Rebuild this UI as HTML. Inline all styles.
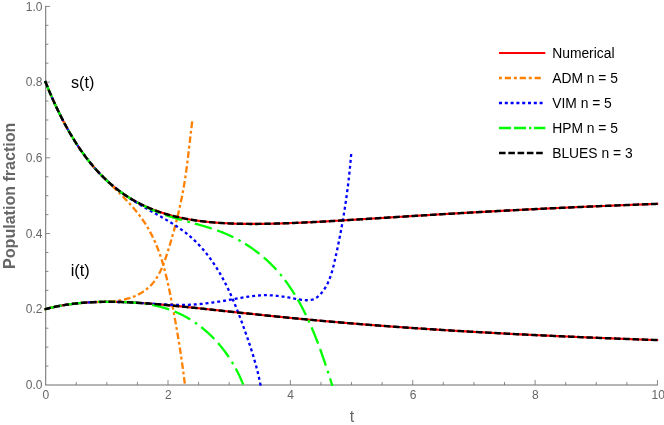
<!DOCTYPE html>
<html><head><meta charset="utf-8"><title>Population fraction</title>
<style>
html,body{margin:0;padding:0;background:#fff}
svg{display:block;font-family:"Liberation Sans",sans-serif;will-change:transform}
.c path{fill:none;stroke-width:2.3;stroke-linecap:butt;stroke-linejoin:round}
.num{stroke:#ff0000;stroke-width:2.1 !important}
.adm{stroke:#ff8000;stroke-dasharray:2.8 2.85 6.6 2.75;stroke-dashoffset:0.4}
.ladm{stroke:#ff8000;stroke-dasharray:2.9 2.9 6.2 2.9}
.vim{stroke:#0000ff;stroke-dasharray:3 2.9;stroke-dashoffset:0.5}
.lvim{stroke:#0000ff;stroke-dasharray:3 2.8}
.hpm{stroke:#00ff00;stroke-dasharray:17.6 5.65 17.6 5.65 2.6 5.2;stroke-dashoffset:0.05}
.lhpm{stroke:#00ff00;stroke-dasharray:12 3 12 3 2.3 2.8}
.blu{stroke:#000000;stroke-dasharray:6.5 2.72;stroke-dashoffset:0;stroke-width:2.45 !important}
.lblu{stroke:#000000;stroke-dasharray:6.6 2.69}
.ax{stroke:#6c6c6c;stroke-width:0.8;fill:none}
.tl text{font-size:12px;fill:#666}
.lg text{font-size:13.85px;fill:#000}
</style></head><body>
<svg width="664" height="425" viewBox="0 0 664 425">
<rect width="664" height="425" fill="#fff"/>
<defs><clipPath id="cp"><rect x="43.9" y="6.30" width="614.80" height="379.70"/></clipPath></defs>
<g class="ax"><path d="M45.72,5.95 V385.0" fill="none" stroke-width="1"/><path d="M45.2,385.0 H657.89" fill="none" stroke-width="1"/><path d="M76.23,385.0 v-3.1 M106.82,385.0 v-3.1 M137.41,385.0 v-3.1 M168.00,385.0 v-5.1 M198.59,385.0 v-3.1 M229.18,385.0 v-3.1 M259.77,385.0 v-3.1 M290.36,385.0 v-5.1 M320.95,385.0 v-3.1 M351.54,385.0 v-3.1 M382.13,385.0 v-3.1 M412.72,385.0 v-5.1 M443.31,385.0 v-3.1 M473.90,385.0 v-3.1 M504.49,385.0 v-3.1 M535.08,385.0 v-5.1 M565.67,385.0 v-3.1 M596.26,385.0 v-3.1 M626.85,385.0 v-3.1 M657.44,385.0 v-5.1 M45.7,366.07 h2.7 M45.7,347.14 h2.7 M45.7,328.21 h2.7 M45.7,309.28 h4.4 M45.7,290.35 h2.7 M45.7,271.42 h2.7 M45.7,252.49 h2.7 M45.7,233.56 h4.4 M45.7,214.63 h2.7 M45.7,195.70 h2.7 M45.7,176.77 h2.7 M45.7,157.84 h4.4 M45.7,138.91 h2.7 M45.7,119.98 h2.7 M45.7,101.05 h2.7 M45.7,82.12 h4.4 M45.7,63.19 h2.7 M45.7,44.26 h2.7 M45.7,25.33 h2.7 M45.7,6.40 h4.4"/></g>
<g class="c" clip-path="url(#cp)">
<path class="num" d="M45.13,81.07 L45.50,82.00 L47.04,85.81 L48.57,89.54 L50.11,93.17 L51.64,96.73 L53.18,100.20 L54.72,103.59 L56.25,106.89 L57.79,110.13 L59.32,113.28 L60.86,116.36 L62.39,119.36 L63.93,122.30 L65.47,125.16 L67.00,127.96 L68.54,130.68 L70.07,133.35 L71.61,135.94 L73.15,138.48 L74.68,140.95 L76.22,143.36 L77.75,145.71 L79.29,148.00 L80.82,150.24 L82.36,152.42 L83.90,154.55 L85.43,156.62 L86.97,158.64 L88.50,160.61 L90.04,162.53 L91.58,164.40 L93.11,166.23 L94.65,168.01 L96.18,169.74 L97.72,171.43 L99.25,173.07 L100.79,174.67 L102.33,176.23 L103.86,177.75 L105.40,179.23 L106.93,180.67 L108.47,182.07 L110.01,183.44 L111.54,184.77 L113.08,186.06 L114.61,187.32 L116.15,188.54 L117.68,189.73 L119.22,190.89 L120.76,192.02 L122.29,193.12 L123.83,194.19 L125.36,195.22 L126.90,196.23 L128.44,197.21 L129.97,198.16 L131.51,199.09 L133.04,199.99 L134.58,200.86 L136.11,201.71 L137.65,202.54 L139.19,203.34 L140.72,204.12 L142.26,204.87 L143.79,205.60 L145.33,206.32 L146.87,207.01 L148.40,207.67 L149.94,208.32 L151.47,208.95 L153.01,209.56 L154.54,210.15 L156.08,210.73 L157.62,211.28 L159.15,211.82 L160.69,212.34 L162.22,212.85 L163.76,213.33 L165.30,213.81 L166.83,214.26 L168.37,214.71 L169.90,215.13 L171.44,215.55 L172.97,215.94 L174.51,216.33 L176.05,216.70 L177.58,217.06 L179.12,217.41 L180.65,217.74 L182.19,218.06 L183.73,218.37 L185.26,218.67 L186.80,218.96 L188.33,219.24 L189.87,219.50 L191.40,219.76 L192.94,220.00 L194.48,220.24 L196.01,220.47 L197.55,220.68 L199.08,220.89 L200.62,221.09 L202.16,221.28 L203.69,221.46 L205.23,221.64 L206.76,221.80 L208.30,221.96 L209.83,222.11 L211.37,222.25 L212.91,222.39 L214.44,222.52 L215.98,222.64 L217.51,222.76 L219.05,222.86 L220.59,222.97 L222.12,223.06 L223.66,223.15 L225.19,223.24 L226.73,223.32 L228.26,223.39 L229.80,223.46 L231.34,223.52 L232.87,223.58 L234.41,223.63 L235.94,223.68 L237.48,223.72 L239.02,223.76 L240.55,223.79 L242.09,223.82 L243.62,223.85 L245.16,223.87 L246.69,223.89 L248.23,223.90 L249.77,223.91 L251.30,223.92 L252.84,223.92 L254.37,223.92 L255.91,223.91 L257.45,223.91 L258.98,223.89 L260.52,223.88 L262.05,223.86 L263.59,223.84 L265.13,223.82 L266.66,223.80 L268.20,223.77 L269.73,223.74 L271.27,223.70 L272.80,223.67 L274.34,223.63 L275.88,223.59 L277.41,223.55 L278.95,223.50 L280.48,223.46 L282.02,223.41 L283.56,223.36 L285.09,223.30 L286.63,223.25 L288.16,223.19 L289.70,223.13 L291.23,223.07 L292.77,223.01 L294.31,222.95 L295.84,222.89 L297.38,222.82 L298.91,222.75 L300.45,222.68 L301.99,222.61 L303.52,222.54 L305.06,222.47 L306.59,222.40 L308.13,222.32 L309.66,222.24 L311.20,222.17 L312.74,222.09 L314.27,222.01 L315.81,221.93 L317.34,221.85 L318.88,221.77 L320.42,221.68 L321.95,221.60 L323.49,221.52 L325.02,221.43 L326.56,221.35 L328.09,221.26 L329.63,221.17 L331.17,221.08 L332.70,220.99 L334.24,220.91 L335.77,220.82 L337.31,220.73 L338.85,220.63 L340.38,220.54 L341.92,220.45 L343.45,220.36 L344.99,220.27 L346.52,220.17 L348.06,220.08 L349.60,219.99 L351.13,219.89 L352.67,219.80 L354.20,219.70 L355.74,219.61 L357.28,219.51 L358.81,219.42 L360.35,219.32 L361.88,219.23 L363.42,219.13 L364.95,219.03 L366.49,218.94 L368.03,218.84 L369.56,218.74 L371.10,218.65 L372.63,218.55 L374.17,218.45 L375.71,218.36 L377.24,218.26 L378.78,218.16 L380.31,218.06 L381.85,217.97 L383.38,217.87 L384.92,217.77 L386.46,217.68 L387.99,217.58 L389.53,217.48 L391.06,217.38 L392.60,217.29 L394.14,217.19 L395.67,217.09 L397.21,216.99 L398.74,216.90 L400.28,216.80 L401.81,216.70 L403.35,216.61 L404.89,216.51 L406.42,216.41 L407.96,216.32 L409.49,216.22 L411.03,216.13 L412.57,216.03 L414.10,215.93 L415.64,215.84 L417.17,215.74 L418.71,215.65 L420.24,215.55 L421.78,215.46 L423.32,215.36 L424.85,215.27 L426.39,215.17 L427.92,215.08 L429.46,214.98 L431.00,214.89 L432.53,214.80 L434.07,214.70 L435.60,214.61 L437.14,214.52 L438.67,214.42 L440.21,214.33 L441.75,214.24 L443.28,214.15 L444.82,214.05 L446.35,213.96 L447.89,213.87 L449.43,213.78 L450.96,213.69 L452.50,213.60 L454.03,213.51 L455.57,213.42 L457.11,213.33 L458.64,213.24 L460.18,213.15 L461.71,213.06 L463.25,212.97 L464.78,212.88 L466.32,212.79 L467.86,212.70 L469.39,212.61 L470.93,212.53 L472.46,212.44 L474.00,212.35 L475.54,212.27 L477.07,212.18 L478.61,212.09 L480.14,212.01 L481.68,211.92 L483.21,211.83 L484.75,211.75 L486.29,211.66 L487.82,211.58 L489.36,211.49 L490.89,211.41 L492.43,211.33 L493.97,211.24 L495.50,211.16 L497.04,211.08 L498.57,210.99 L500.11,210.91 L501.64,210.83 L503.18,210.75 L504.72,210.67 L506.25,210.58 L507.79,210.50 L509.32,210.42 L510.86,210.34 L512.40,210.26 L513.93,210.18 L515.47,210.10 L517.00,210.02 L518.54,209.94 L520.07,209.86 L521.61,209.78 L523.15,209.71 L524.68,209.63 L526.22,209.55 L527.75,209.47 L529.29,209.39 L530.83,209.32 L532.36,209.24 L533.90,209.16 L535.43,209.09 L536.97,209.01 L538.50,208.94 L540.04,208.86 L541.58,208.79 L543.11,208.71 L544.65,208.64 L546.18,208.56 L547.72,208.49 L549.26,208.41 L550.79,208.34 L552.33,208.27 L553.86,208.20 L555.40,208.12 L556.93,208.05 L558.47,207.98 L560.01,207.91 L561.54,207.83 L563.08,207.76 L564.61,207.69 L566.15,207.62 L567.69,207.55 L569.22,207.48 L570.76,207.41 L572.29,207.34 L573.83,207.27 L575.36,207.20 L576.90,207.13 L578.44,207.06 L579.97,206.99 L581.51,206.93 L583.04,206.86 L584.58,206.79 L586.12,206.72 L587.65,206.66 L589.19,206.59 L590.72,206.52 L592.26,206.46 L593.79,206.39 L595.33,206.32 L596.87,206.26 L598.40,206.19 L599.94,206.13 L601.47,206.06 L603.01,206.00 L604.55,205.93 L606.08,205.87 L607.62,205.80 L609.15,205.74 L610.69,205.68 L612.22,205.61 L613.76,205.55 L615.30,205.49 L616.83,205.42 L618.37,205.36 L619.90,205.30 L621.44,205.24 L622.98,205.17 L624.51,205.11 L626.05,205.05 L627.58,204.99 L629.12,204.93 L630.65,204.87 L632.19,204.81 L633.73,204.75 L635.26,204.69 L636.80,204.63 L638.33,204.57 L639.87,204.51 L641.41,204.45 L642.94,204.39 L644.48,204.33 L646.01,204.27 L647.55,204.22 L649.08,204.16 L650.62,204.10 L652.16,204.04 L653.69,203.99 L655.23,203.93 L656.76,203.87 L658.30,203.81"/>
<path class="num" d="M44.53,309.35 L45.50,309.10 L47.04,308.70 L48.57,308.31 L50.11,307.93 L51.64,307.57 L53.18,307.22 L54.72,306.89 L56.25,306.57 L57.79,306.25 L59.32,305.96 L60.86,305.67 L62.39,305.40 L63.93,305.13 L65.47,304.88 L67.00,304.65 L68.54,304.42 L70.07,304.20 L71.61,304.00 L73.15,303.80 L74.68,303.62 L76.22,303.44 L77.75,303.28 L79.29,303.13 L80.82,302.98 L82.36,302.85 L83.90,302.72 L85.43,302.61 L86.97,302.50 L88.50,302.40 L90.04,302.31 L91.58,302.23 L93.11,302.16 L94.65,302.09 L96.18,302.03 L97.72,301.98 L99.25,301.94 L100.79,301.91 L102.33,301.88 L103.86,301.86 L105.40,301.84 L106.93,301.83 L108.47,301.83 L110.01,301.84 L111.54,301.85 L113.08,301.87 L114.61,301.89 L116.15,301.92 L117.68,301.95 L119.22,301.99 L120.76,302.03 L122.29,302.08 L123.83,302.13 L125.36,302.19 L126.90,302.26 L128.44,302.32 L129.97,302.39 L131.51,302.47 L133.04,302.55 L134.58,302.63 L136.11,302.72 L137.65,302.81 L139.19,302.91 L140.72,303.00 L142.26,303.10 L143.79,303.21 L145.33,303.32 L146.87,303.43 L148.40,303.54 L149.94,303.65 L151.47,303.77 L153.01,303.89 L154.54,304.02 L156.08,304.14 L157.62,304.27 L159.15,304.40 L160.69,304.53 L162.22,304.67 L163.76,304.80 L165.30,304.94 L166.83,305.08 L168.37,305.22 L169.90,305.36 L171.44,305.51 L172.97,305.66 L174.51,305.80 L176.05,305.95 L177.58,306.10 L179.12,306.25 L180.65,306.41 L182.19,306.56 L183.73,306.71 L185.26,306.87 L186.80,307.03 L188.33,307.18 L189.87,307.34 L191.40,307.50 L192.94,307.66 L194.48,307.82 L196.01,307.98 L197.55,308.14 L199.08,308.31 L200.62,308.47 L202.16,308.63 L203.69,308.79 L205.23,308.96 L206.76,309.12 L208.30,309.29 L209.83,309.45 L211.37,309.62 L212.91,309.78 L214.44,309.95 L215.98,310.11 L217.51,310.28 L219.05,310.44 L220.59,310.61 L222.12,310.78 L223.66,310.94 L225.19,311.11 L226.73,311.27 L228.26,311.44 L229.80,311.60 L231.34,311.77 L232.87,311.94 L234.41,312.10 L235.94,312.27 L237.48,312.43 L239.02,312.60 L240.55,312.76 L242.09,312.92 L243.62,313.09 L245.16,313.25 L246.69,313.41 L248.23,313.58 L249.77,313.74 L251.30,313.90 L252.84,314.06 L254.37,314.23 L255.91,314.39 L257.45,314.55 L258.98,314.71 L260.52,314.87 L262.05,315.03 L263.59,315.19 L265.13,315.35 L266.66,315.50 L268.20,315.66 L269.73,315.82 L271.27,315.98 L272.80,316.13 L274.34,316.29 L275.88,316.44 L277.41,316.60 L278.95,316.75 L280.48,316.91 L282.02,317.06 L283.56,317.21 L285.09,317.36 L286.63,317.52 L288.16,317.67 L289.70,317.82 L291.23,317.97 L292.77,318.12 L294.31,318.27 L295.84,318.41 L297.38,318.56 L298.91,318.71 L300.45,318.86 L301.99,319.00 L303.52,319.15 L305.06,319.29 L306.59,319.44 L308.13,319.58 L309.66,319.72 L311.20,319.87 L312.74,320.01 L314.27,320.15 L315.81,320.29 L317.34,320.43 L318.88,320.57 L320.42,320.71 L321.95,320.85 L323.49,320.99 L325.02,321.12 L326.56,321.26 L328.09,321.40 L329.63,321.53 L331.17,321.67 L332.70,321.80 L334.24,321.93 L335.77,322.07 L337.31,322.20 L338.85,322.33 L340.38,322.46 L341.92,322.59 L343.45,322.73 L344.99,322.85 L346.52,322.98 L348.06,323.11 L349.60,323.24 L351.13,323.37 L352.67,323.49 L354.20,323.62 L355.74,323.75 L357.28,323.87 L358.81,324.00 L360.35,324.12 L361.88,324.24 L363.42,324.37 L364.95,324.49 L366.49,324.61 L368.03,324.73 L369.56,324.85 L371.10,324.97 L372.63,325.09 L374.17,325.21 L375.71,325.33 L377.24,325.45 L378.78,325.56 L380.31,325.68 L381.85,325.80 L383.38,325.91 L384.92,326.03 L386.46,326.14 L387.99,326.26 L389.53,326.37 L391.06,326.48 L392.60,326.59 L394.14,326.71 L395.67,326.82 L397.21,326.93 L398.74,327.04 L400.28,327.15 L401.81,327.26 L403.35,327.37 L404.89,327.48 L406.42,327.58 L407.96,327.69 L409.49,327.80 L411.03,327.90 L412.57,328.01 L414.10,328.12 L415.64,328.22 L417.17,328.32 L418.71,328.43 L420.24,328.53 L421.78,328.63 L423.32,328.74 L424.85,328.84 L426.39,328.94 L427.92,329.04 L429.46,329.14 L431.00,329.24 L432.53,329.34 L434.07,329.44 L435.60,329.54 L437.14,329.64 L438.67,329.74 L440.21,329.83 L441.75,329.93 L443.28,330.03 L444.82,330.12 L446.35,330.22 L447.89,330.31 L449.43,330.41 L450.96,330.50 L452.50,330.60 L454.03,330.69 L455.57,330.78 L457.11,330.88 L458.64,330.97 L460.18,331.06 L461.71,331.15 L463.25,331.24 L464.78,331.33 L466.32,331.42 L467.86,331.51 L469.39,331.60 L470.93,331.69 L472.46,331.78 L474.00,331.87 L475.54,331.95 L477.07,332.04 L478.61,332.13 L480.14,332.21 L481.68,332.30 L483.21,332.39 L484.75,332.47 L486.29,332.56 L487.82,332.64 L489.36,332.73 L490.89,332.81 L492.43,332.89 L493.97,332.98 L495.50,333.06 L497.04,333.14 L498.57,333.22 L500.11,333.31 L501.64,333.39 L503.18,333.47 L504.72,333.55 L506.25,333.63 L507.79,333.71 L509.32,333.79 L510.86,333.87 L512.40,333.95 L513.93,334.02 L515.47,334.10 L517.00,334.18 L518.54,334.26 L520.07,334.33 L521.61,334.41 L523.15,334.49 L524.68,334.56 L526.22,334.64 L527.75,334.72 L529.29,334.79 L530.83,334.87 L532.36,334.94 L533.90,335.01 L535.43,335.09 L536.97,335.16 L538.50,335.24 L540.04,335.31 L541.58,335.38 L543.11,335.45 L544.65,335.53 L546.18,335.60 L547.72,335.67 L549.26,335.74 L550.79,335.81 L552.33,335.88 L553.86,335.95 L555.40,336.02 L556.93,336.09 L558.47,336.16 L560.01,336.23 L561.54,336.30 L563.08,336.37 L564.61,336.44 L566.15,336.50 L567.69,336.57 L569.22,336.64 L570.76,336.71 L572.29,336.77 L573.83,336.84 L575.36,336.90 L576.90,336.97 L578.44,337.04 L579.97,337.10 L581.51,337.17 L583.04,337.23 L584.58,337.30 L586.12,337.36 L587.65,337.43 L589.19,337.49 L590.72,337.55 L592.26,337.62 L593.79,337.68 L595.33,337.74 L596.87,337.81 L598.40,337.87 L599.94,337.93 L601.47,337.99 L603.01,338.05 L604.55,338.11 L606.08,338.18 L607.62,338.24 L609.15,338.30 L610.69,338.36 L612.22,338.42 L613.76,338.48 L615.30,338.54 L616.83,338.60 L618.37,338.66 L619.90,338.72 L621.44,338.77 L622.98,338.83 L624.51,338.89 L626.05,338.95 L627.58,339.01 L629.12,339.07 L630.65,339.12 L632.19,339.18 L633.73,339.24 L635.26,339.29 L636.80,339.35 L638.33,339.41 L639.87,339.46 L641.41,339.52 L642.94,339.57 L644.48,339.63 L646.01,339.68 L647.55,339.74 L649.08,339.79 L650.62,339.85 L652.16,339.90 L653.69,339.96 L655.23,340.01 L656.76,340.07 L658.30,340.12"/>
<path class="adm" d="M45.10,81.11 L45.48,82.03 L45.93,83.14 L46.38,84.24 L46.84,85.34 L47.29,86.45 L47.75,87.55 L48.21,88.65 L48.68,89.75 L49.14,90.86 L49.61,91.96 L50.08,93.06 L50.56,94.16 L51.03,95.25 L51.51,96.35 L51.99,97.45 L52.48,98.55 L52.97,99.64 L53.46,100.74 L53.95,101.83 L54.44,102.92 L54.94,104.01 L55.44,105.10 L55.95,106.19 L56.46,107.28 L56.97,108.36 L57.48,109.45 L58.00,110.53 L58.52,111.61 L59.04,112.69 L59.57,113.77 L60.10,114.84 L60.64,115.92 L61.18,116.99 L61.72,118.06 L62.27,119.13 L62.82,120.20 L63.37,121.26 L63.93,122.32 L64.49,123.39 L65.05,124.44 L65.62,125.50 L66.20,126.55 L66.77,127.60 L67.36,128.65 L67.94,129.70 L68.53,130.74 L69.13,131.78 L69.73,132.82 L70.33,133.86 L70.94,134.89 L71.55,135.92 L72.17,136.95 L72.79,137.97 L73.42,138.99 L74.05,140.01 L74.69,141.02 L75.33,142.03 L75.98,143.04 L76.63,144.05 L77.29,145.05 L77.95,146.05 L78.61,147.04 L79.29,148.03 L79.96,149.02 L80.65,150.00 L81.34,150.98 L82.03,151.96 L82.73,152.93 L83.43,153.90 L84.14,154.87 L84.86,155.83 L85.58,156.78 L86.30,157.74 L87.03,158.68 L87.77,159.63 L88.51,160.57 L89.26,161.50 L90.01,162.44 L90.77,163.36 L91.54,164.28 L92.31,165.20 L93.08,166.12 L93.86,167.02 L94.65,167.93 L95.44,168.83 L96.24,169.72 L97.04,170.61 L97.85,171.50 L98.67,172.38 L99.49,173.25 L100.31,174.12 L101.14,174.99 L101.98,175.85 L102.82,176.71 L103.66,177.57 L104.50,178.42 L105.35,179.27 L106.20,180.12 L107.06,180.97 L107.91,181.81 L108.77,182.65 L109.63,183.50 L110.49,184.34 L111.35,185.18 L112.21,186.01 L113.08,186.85 L113.94,187.69 L114.80,188.53 L115.66,189.37 L116.52,190.21 L117.38,191.05 L118.24,191.90 L119.09,192.74 L119.95,193.59 L120.80,194.44 L121.65,195.29 L122.49,196.14 L123.34,197.00 L124.17,197.86 L125.01,198.72 L125.84,199.59 L126.66,200.46 L127.49,201.34 L128.30,202.21 L129.11,203.10 L129.92,203.98 L130.72,204.87 L131.52,205.76 L132.31,206.66 L133.09,207.57 L133.87,208.47 L134.64,209.38 L135.40,210.30 L136.16,211.22 L136.91,212.15 L137.65,213.08 L138.39,214.02 L139.11,214.96 L139.83,215.91 L140.54,216.86 L141.25,217.82 L141.94,218.78 L142.62,219.75 L143.30,220.73 L143.96,221.71 L144.62,222.70 L145.27,223.69 L145.90,224.69 L146.53,225.70 L147.14,226.71 L147.75,227.73 L148.35,228.76 L148.94,229.79 L149.51,230.83 L150.08,231.87 L150.64,232.92 L151.19,233.97 L151.73,235.03 L152.26,236.09 L152.79,237.16 L153.30,238.23 L153.81,239.31 L154.30,240.39 L154.79,241.48 L155.27,242.57 L155.75,243.67 L156.21,244.77 L156.66,245.87 L157.11,246.98 L157.55,248.09 L157.98,249.20 L158.41,250.32 L158.82,251.44 L159.23,252.56 L159.63,253.69 L160.03,254.82 L160.41,255.96 L160.80,257.09 L161.17,258.23 L161.54,259.37 L161.90,260.52 L162.25,261.67 L162.60,262.82 L162.94,263.97 L163.28,265.12 L163.61,266.28 L163.93,267.44 L164.25,268.60 L164.57,269.76 L164.87,270.93 L165.18,272.09 L165.48,273.26 L165.77,274.43 L166.06,275.60 L166.35,276.77 L166.63,277.95 L166.91,279.12 L167.18,280.30 L167.46,281.47 L167.72,282.65 L167.99,283.83 L168.25,285.01 L168.50,286.19 L168.76,287.37 L169.01,288.55 L169.26,289.74 L169.51,290.92 L169.75,292.10 L169.99,293.28 L170.23,294.47 L170.47,295.65 L170.71,296.83 L170.94,298.01 L171.18,299.20 L171.41,300.38 L171.64,301.56 L171.87,302.74 L172.10,303.92 L172.33,305.10 L172.55,306.28 L172.78,307.46 L173.01,308.64 L173.23,309.82 L173.45,311.00 L173.67,312.18 L173.89,313.36 L174.11,314.54 L174.33,315.72 L174.55,316.89 L174.76,318.07 L174.98,319.25 L175.19,320.42 L175.41,321.60 L175.62,322.78 L175.83,323.96 L176.04,325.13 L176.24,326.31 L176.45,327.49 L176.66,328.66 L176.86,329.84 L177.06,331.02 L177.27,332.19 L177.47,333.37 L177.67,334.55 L177.86,335.72 L178.06,336.90 L178.26,338.08 L178.45,339.25 L178.64,340.43 L178.84,341.61 L179.03,342.79 L179.22,343.97 L179.41,345.14 L179.59,346.32 L179.78,347.50 L179.96,348.68 L180.15,349.86 L180.33,351.04 L180.51,352.22 L180.69,353.40 L180.86,354.58 L181.04,355.76 L181.22,356.94 L181.39,358.12 L181.56,359.31 L181.73,360.49 L181.90,361.67 L182.07,362.85 L182.24,364.04 L182.40,365.22 L182.57,366.41 L182.73,367.59 L182.89,368.78 L183.05,369.97 L183.21,371.16 L183.37,372.34 L183.52,373.53 L183.68,374.72 L183.83,375.91 L183.98,377.10 L184.13,378.30 L184.28,379.49 L184.43,380.68 L184.57,381.87 L184.72,383.07 L184.86,384.27 L185.00,385.46 L185.14,386.66 L185.28,387.86 L185.42,389.06 L185.55,390.26 L185.69,391.46 L185.82,392.66 L185.95,393.86 L186.08,395.06"/>
<path class="adm" d="M44.53,309.32 L45.50,309.08 L46.66,308.79 L47.82,308.50 L48.98,308.22 L50.14,307.94 L51.30,307.67 L52.47,307.40 L53.64,307.14 L54.81,306.89 L55.98,306.64 L57.15,306.40 L58.32,306.16 L59.50,305.93 L60.67,305.71 L61.85,305.50 L63.03,305.29 L64.21,305.08 L65.39,304.89 L66.57,304.70 L67.75,304.51 L68.94,304.34 L70.12,304.17 L71.31,304.01 L72.49,303.85 L73.68,303.71 L74.87,303.57 L76.06,303.43 L77.25,303.31 L78.44,303.19 L79.63,303.08 L80.82,302.98 L82.01,302.88 L83.20,302.79 L84.40,302.70 L85.59,302.62 L86.78,302.54 L87.98,302.47 L89.17,302.40 L90.37,302.34 L91.56,302.28 L92.76,302.22 L93.95,302.16 L95.15,302.11 L96.34,302.06 L97.54,302.01 L98.73,301.96 L99.92,301.91 L101.12,301.86 L102.31,301.81 L103.51,301.76 L104.70,301.71 L105.89,301.66 L107.08,301.60 L108.28,301.54 L109.47,301.47 L110.66,301.39 L111.85,301.30 L113.04,301.21 L114.23,301.09 L115.42,300.97 L116.61,300.82 L117.80,300.66 L118.99,300.49 L120.17,300.29 L121.36,300.08 L122.54,299.85 L123.73,299.60 L124.91,299.33 L126.08,299.04 L127.25,298.73 L128.42,298.40 L129.58,298.05 L130.74,297.67 L131.89,297.27 L133.03,296.85 L134.16,296.41 L135.28,295.94 L136.39,295.44 L137.48,294.93 L138.56,294.38 L139.63,293.82 L140.68,293.23 L141.72,292.62 L142.74,291.98 L143.74,291.33 L144.72,290.65 L145.68,289.94 L146.62,289.22 L147.53,288.47 L148.43,287.70 L149.29,286.91 L150.13,286.10 L150.95,285.27 L151.74,284.42 L152.51,283.54 L153.26,282.65 L153.98,281.74 L154.68,280.81 L155.36,279.87 L156.01,278.91 L156.65,277.93 L157.27,276.94 L157.87,275.93 L158.46,274.91 L159.02,273.87 L159.57,272.83 L160.11,271.77 L160.62,270.70 L161.13,269.62 L161.62,268.53 L162.10,267.43 L162.56,266.32 L163.01,265.21 L163.46,264.08 L163.89,262.95 L164.31,261.82 L164.73,260.68 L165.13,259.53 L165.53,258.38 L165.92,257.23 L166.30,256.07 L166.68,254.91 L167.06,253.75 L167.43,252.59 L167.79,251.43 L168.16,250.27 L168.52,249.11 L168.88,247.95 L169.23,246.80 L169.59,245.64 L169.94,244.48 L170.28,243.32 L170.63,242.17 L170.97,241.01 L171.31,239.85 L171.65,238.70 L171.98,237.54 L172.31,236.39 L172.64,235.23 L172.97,234.08 L173.29,232.93 L173.61,231.77 L173.93,230.62 L174.24,229.46 L174.55,228.31 L174.86,227.15 L175.17,226.00 L175.47,224.85 L175.77,223.69 L176.07,222.54 L176.36,221.38 L176.65,220.23 L176.94,219.07 L177.23,217.92 L177.51,216.76 L177.79,215.61 L178.07,214.45 L178.34,213.30 L178.62,212.14 L178.88,210.98 L179.15,209.82 L179.41,208.67 L179.67,207.51 L179.93,206.35 L180.18,205.19 L180.43,204.03 L180.68,202.87 L180.93,201.70 L181.17,200.54 L181.41,199.38 L181.64,198.21 L181.88,197.05 L182.11,195.88 L182.33,194.71 L182.56,193.55 L182.78,192.38 L183.00,191.21 L183.21,190.04 L183.42,188.87 L183.63,187.69 L183.84,186.52 L184.04,185.34 L184.24,184.17 L184.44,182.99 L184.63,181.81 L184.82,180.63 L185.01,179.45 L185.19,178.27 L185.37,177.08 L185.55,175.90 L185.72,174.71 L185.90,173.52 L186.06,172.33 L186.23,171.14 L186.40,169.95 L186.56,168.76 L186.72,167.57 L186.87,166.37 L187.03,165.18 L187.18,163.98 L187.33,162.79 L187.48,161.59 L187.63,160.40 L187.77,159.20 L187.92,158.00 L188.06,156.81 L188.20,155.61 L188.34,154.41 L188.48,153.21 L188.62,152.02 L188.76,150.82 L188.90,149.62 L189.04,148.43 L189.17,147.23 L189.31,146.04 L189.44,144.84 L189.58,143.65 L189.71,142.46 L189.85,141.26 L189.99,140.07 L190.12,138.88 L190.26,137.69 L190.39,136.50 L190.53,135.32 L190.67,134.13 L190.81,132.95 L190.95,131.76 L191.09,130.58 L191.23,129.40 L191.38,128.22 L191.52,127.04 L191.67,125.87 L191.81,124.70 L191.96,123.52 L192.11,122.35 L192.27,121.19 L192.42,120.02"/>
<path class="vim" d="M45.11,81.09 L45.49,82.02 L45.94,83.13 L46.39,84.24 L46.84,85.34 L47.30,86.45 L47.75,87.56 L48.21,88.66 L48.68,89.77 L49.14,90.87 L49.61,91.97 L50.08,93.08 L50.55,94.18 L51.03,95.28 L51.51,96.38 L51.99,97.47 L52.47,98.57 L52.96,99.67 L53.45,100.76 L53.94,101.86 L54.44,102.95 L54.94,104.04 L55.44,105.13 L55.95,106.22 L56.46,107.31 L56.97,108.39 L57.48,109.48 L58.00,110.56 L58.52,111.64 L59.05,112.72 L59.58,113.79 L60.11,114.87 L60.65,115.94 L61.19,117.01 L61.73,118.08 L62.28,119.15 L62.83,120.22 L63.39,121.28 L63.95,122.34 L64.51,123.40 L65.08,124.46 L65.65,125.51 L66.22,126.57 L66.80,127.62 L67.39,128.67 L67.97,129.71 L68.57,130.75 L69.16,131.79 L69.76,132.83 L70.37,133.87 L70.98,134.90 L71.59,135.93 L72.21,136.96 L72.83,137.98 L73.46,139.00 L74.09,140.02 L74.73,141.04 L75.37,142.05 L76.02,143.06 L76.67,144.06 L77.33,145.07 L77.99,146.07 L78.65,147.06 L79.33,148.06 L80.00,149.05 L80.68,150.03 L81.37,151.02 L82.06,152.00 L82.76,152.97 L83.46,153.95 L84.17,154.91 L84.88,155.88 L85.60,156.84 L86.33,157.80 L87.06,158.75 L87.79,159.70 L88.53,160.65 L89.28,161.59 L90.03,162.53 L90.79,163.46 L91.55,164.39 L92.32,165.31 L93.10,166.23 L93.88,167.14 L94.67,168.05 L95.46,168.95 L96.26,169.84 L97.06,170.73 L97.87,171.62 L98.69,172.49 L99.51,173.37 L100.34,174.23 L101.18,175.09 L102.02,175.94 L102.87,176.79 L103.72,177.63 L104.58,178.46 L105.45,179.29 L106.32,180.10 L107.20,180.92 L108.09,181.72 L108.98,182.51 L109.88,183.30 L110.78,184.08 L111.69,184.86 L112.61,185.63 L113.53,186.39 L114.46,187.14 L115.39,187.89 L116.33,188.63 L117.27,189.37 L118.22,190.10 L119.17,190.82 L120.13,191.54 L121.10,192.25 L122.06,192.96 L123.04,193.66 L124.01,194.35 L124.99,195.04 L125.98,195.72 L126.97,196.40 L127.96,197.08 L128.96,197.75 L129.96,198.41 L130.97,199.07 L131.98,199.73 L132.99,200.38 L134.00,201.02 L135.02,201.67 L136.04,202.31 L137.07,202.94 L138.10,203.57 L139.13,204.20 L140.16,204.82 L141.20,205.44 L142.23,206.05 L143.28,206.67 L144.32,207.28 L145.36,207.88 L146.41,208.49 L147.46,209.09 L148.51,209.69 L149.56,210.29 L150.61,210.88 L151.66,211.48 L152.71,212.07 L153.77,212.67 L154.82,213.26 L155.87,213.86 L156.92,214.45 L157.97,215.05 L159.02,215.64 L160.07,216.24 L161.12,216.84 L162.16,217.44 L163.20,218.04 L164.25,218.65 L165.28,219.25 L166.32,219.87 L167.35,220.48 L168.38,221.10 L169.41,221.72 L170.43,222.34 L171.45,222.97 L172.46,223.61 L173.47,224.25 L174.48,224.89 L175.48,225.54 L176.48,226.20 L177.47,226.86 L178.45,227.53 L179.43,228.20 L180.40,228.89 L181.37,229.58 L182.33,230.27 L183.28,230.98 L184.23,231.69 L185.17,232.41 L186.10,233.14 L187.03,233.88 L187.95,234.63 L188.86,235.39 L189.76,236.16 L190.65,236.93 L191.54,237.72 L192.42,238.51 L193.29,239.32 L194.15,240.13 L195.00,240.95 L195.85,241.77 L196.69,242.61 L197.52,243.45 L198.35,244.30 L199.17,245.16 L199.98,246.03 L200.78,246.90 L201.57,247.79 L202.36,248.67 L203.14,249.57 L203.91,250.47 L204.68,251.38 L205.43,252.30 L206.18,253.22 L206.93,254.15 L207.66,255.09 L208.39,256.03 L209.11,256.98 L209.82,257.94 L210.53,258.90 L211.23,259.86 L211.92,260.84 L212.61,261.81 L213.28,262.80 L213.95,263.79 L214.62,264.78 L215.27,265.78 L215.92,266.78 L216.56,267.79 L217.20,268.81 L217.82,269.83 L218.45,270.85 L219.06,271.88 L219.67,272.91 L220.27,273.94 L220.87,274.98 L221.45,276.03 L222.04,277.08 L222.61,278.13 L223.18,279.19 L223.75,280.25 L224.31,281.31 L224.86,282.38 L225.41,283.45 L225.95,284.52 L226.49,285.60 L227.02,286.68 L227.55,287.77 L228.07,288.85 L228.59,289.94 L229.10,291.03 L229.61,292.13 L230.11,293.23 L230.61,294.33 L231.10,295.43 L231.59,296.53 L232.08,297.64 L232.56,298.75 L233.03,299.86 L233.51,300.97 L233.98,302.09 L234.44,303.21 L234.90,304.32 L235.36,305.44 L235.82,306.57 L236.27,307.69 L236.71,308.81 L237.16,309.94 L237.60,311.06 L238.04,312.19 L238.48,313.32 L238.91,314.45 L239.34,315.58 L239.77,316.71 L240.19,317.84 L240.61,318.97 L241.03,320.10 L241.45,321.23 L241.87,322.36 L242.28,323.50 L242.69,324.63 L243.10,325.76 L243.51,326.89 L243.92,328.02 L244.33,329.15 L244.73,330.28 L245.13,331.41 L245.53,332.54 L245.93,333.67 L246.33,334.80 L246.72,335.93 L247.11,337.06 L247.50,338.19 L247.89,339.32 L248.27,340.45 L248.66,341.58 L249.04,342.72 L249.41,343.85 L249.79,344.98 L250.16,346.11 L250.53,347.24 L250.89,348.38 L251.26,349.51 L251.62,350.64 L251.97,351.78 L252.33,352.92 L252.68,354.05 L253.02,355.19 L253.37,356.33 L253.71,357.47 L254.04,358.61 L254.37,359.75 L254.70,360.90 L255.03,362.04 L255.35,363.19 L255.66,364.33 L255.98,365.48 L256.28,366.63 L256.59,367.78 L256.89,368.93 L257.18,370.09 L257.47,371.25 L257.76,372.40 L258.04,373.56 L258.32,374.72 L258.59,375.89 L258.86,377.05 L259.12,378.22 L259.38,379.39 L259.63,380.56 L259.88,381.73 L260.12,382.91 L260.35,384.09 L260.58,385.27 L260.81,386.45 L261.03,387.63 L261.24,388.82 L261.45,390.01 L261.65,391.20 L261.85,392.40 L262.04,393.60 L262.23,394.80 L262.40,396.00"/>
<path class="vim" style="stroke-dashoffset:3.4" d="M44.50,309.39 L45.46,309.14 L46.63,308.82 L47.80,308.52 L48.97,308.22 L50.14,307.93 L51.31,307.65 L52.48,307.38 L53.65,307.12 L54.83,306.86 L56.00,306.61 L57.18,306.37 L58.36,306.13 L59.54,305.91 L60.71,305.68 L61.89,305.47 L63.08,305.27 L64.26,305.07 L65.44,304.88 L66.62,304.69 L67.81,304.51 L68.99,304.34 L70.18,304.18 L71.36,304.02 L72.55,303.86 L73.74,303.72 L74.92,303.58 L76.11,303.45 L77.30,303.32 L78.49,303.20 L79.68,303.08 L80.87,302.97 L82.07,302.87 L83.26,302.77 L84.45,302.67 L85.64,302.59 L86.84,302.51 L88.03,302.43 L89.23,302.36 L90.42,302.29 L91.62,302.23 L92.81,302.17 L94.01,302.12 L95.20,302.07 L96.40,302.03 L97.60,301.99 L98.79,301.96 L99.99,301.93 L101.19,301.91 L102.39,301.89 L103.59,301.87 L104.78,301.86 L105.98,301.85 L107.18,301.85 L108.38,301.85 L109.58,301.85 L110.78,301.86 L111.98,301.87 L113.18,301.88 L114.38,301.90 L115.57,301.92 L116.77,301.95 L117.97,301.98 L119.17,302.01 L120.37,302.04 L121.57,302.08 L122.77,302.12 L123.97,302.16 L125.17,302.20 L126.37,302.25 L127.56,302.30 L128.76,302.35 L129.96,302.41 L131.16,302.46 L132.35,302.52 L133.55,302.58 L134.75,302.65 L135.95,302.71 L137.14,302.78 L138.34,302.85 L139.53,302.91 L140.73,302.99 L141.92,303.06 L143.12,303.13 L144.31,303.21 L145.51,303.28 L146.70,303.36 L147.89,303.44 L149.08,303.52 L150.28,303.60 L151.47,303.68 L152.66,303.75 L153.85,303.83 L155.04,303.91 L156.23,303.98 L157.42,304.06 L158.61,304.13 L159.80,304.20 L160.99,304.27 L162.18,304.34 L163.37,304.40 L164.56,304.47 L165.75,304.52 L166.94,304.58 L168.13,304.63 L169.32,304.68 L170.51,304.73 L171.71,304.77 L172.90,304.81 L174.09,304.84 L175.28,304.87 L176.47,304.89 L177.66,304.91 L178.85,304.92 L180.04,304.93 L181.23,304.93 L182.43,304.92 L183.62,304.91 L184.81,304.89 L186.01,304.87 L187.20,304.84 L188.39,304.80 L189.59,304.75 L190.79,304.69 L191.98,304.63 L193.18,304.56 L194.37,304.48 L195.57,304.40 L196.77,304.31 L197.97,304.21 L199.16,304.11 L200.36,304.00 L201.56,303.88 L202.76,303.76 L203.96,303.63 L205.16,303.49 L206.36,303.35 L207.56,303.21 L208.75,303.06 L209.95,302.90 L211.15,302.75 L212.35,302.58 L213.55,302.41 L214.75,302.24 L215.95,302.07 L217.15,301.89 L218.34,301.71 L219.54,301.52 L220.74,301.33 L221.94,301.14 L223.13,300.95 L224.33,300.75 L225.53,300.55 L226.72,300.35 L227.92,300.15 L229.11,299.94 L230.31,299.74 L231.50,299.53 L232.69,299.32 L233.89,299.11 L235.08,298.90 L236.27,298.69 L237.46,298.48 L238.65,298.27 L239.84,298.06 L241.02,297.86 L242.21,297.66 L243.40,297.46 L244.59,297.26 L245.77,297.07 L246.96,296.88 L248.14,296.71 L249.32,296.53 L250.51,296.37 L251.69,296.21 L252.87,296.06 L254.06,295.92 L255.24,295.80 L256.42,295.68 L257.60,295.57 L258.78,295.48 L259.96,295.39 L261.14,295.33 L262.32,295.27 L263.50,295.23 L264.68,295.21 L265.86,295.20 L267.03,295.21 L268.21,295.23 L269.39,295.27 L270.57,295.32 L271.75,295.39 L272.93,295.47 L274.11,295.56 L275.29,295.66 L276.47,295.78 L277.65,295.91 L278.84,296.04 L280.02,296.19 L281.21,296.35 L282.40,296.52 L283.59,296.69 L284.78,296.87 L285.98,297.06 L287.18,297.26 L288.37,297.46 L289.58,297.67 L290.78,297.88 L291.99,298.10 L293.20,298.32 L294.41,298.55 L295.63,298.77 L296.85,299.00 L298.07,299.23 L299.29,299.44 L300.51,299.64 L301.72,299.82 L302.93,299.98 L304.13,300.10 L305.31,300.18 L306.49,300.23 L307.65,300.22 L308.79,300.17 L309.92,300.05 L311.02,299.87 L312.11,299.63 L313.17,299.31 L314.20,298.90 L315.21,298.42 L316.19,297.84 L317.14,297.20 L318.05,296.48 L318.94,295.70 L319.80,294.87 L320.63,293.99 L321.43,293.08 L322.20,292.13 L322.94,291.17 L323.65,290.19 L324.33,289.19 L324.98,288.18 L325.60,287.15 L326.20,286.11 L326.77,285.06 L327.31,284.00 L327.83,282.92 L328.33,281.83 L328.81,280.73 L329.27,279.63 L329.71,278.51 L330.13,277.38 L330.53,276.25 L330.92,275.10 L331.29,273.95 L331.65,272.80 L332.00,271.64 L332.33,270.47 L332.65,269.30 L332.96,268.12 L333.26,266.94 L333.56,265.76 L333.85,264.58 L334.13,263.39 L334.40,262.20 L334.67,261.01 L334.94,259.83 L335.21,258.64 L335.48,257.45 L335.74,256.27 L336.00,255.08 L336.26,253.90 L336.52,252.72 L336.77,251.53 L337.02,250.35 L337.28,249.17 L337.52,247.99 L337.77,246.81 L338.02,245.63 L338.26,244.45 L338.50,243.27 L338.74,242.09 L338.98,240.91 L339.21,239.73 L339.45,238.55 L339.68,237.38 L339.91,236.20 L340.14,235.02 L340.36,233.85 L340.59,232.67 L340.81,231.49 L341.03,230.32 L341.25,229.14 L341.46,227.97 L341.68,226.79 L341.89,225.61 L342.10,224.44 L342.31,223.26 L342.52,222.09 L342.72,220.91 L342.92,219.74 L343.12,218.56 L343.32,217.39 L343.52,216.21 L343.71,215.04 L343.91,213.86 L344.10,212.69 L344.29,211.51 L344.47,210.33 L344.66,209.16 L344.84,207.98 L345.02,206.80 L345.20,205.63 L345.38,204.45 L345.56,203.27 L345.73,202.09 L345.90,200.92 L346.07,199.74 L346.24,198.56 L346.41,197.38 L346.57,196.20 L346.74,195.02 L346.90,193.84 L347.05,192.66 L347.21,191.48 L347.37,190.29 L347.52,189.11 L347.67,187.93 L347.82,186.74 L347.97,185.56 L348.11,184.37 L348.26,183.19 L348.40,182.00 L348.54,180.81 L348.68,179.62 L348.81,178.43 L348.95,177.24 L349.08,176.05 L349.21,174.86 L349.34,173.67 L349.47,172.48 L349.59,171.28 L349.71,170.09 L349.84,168.89 L349.95,167.69 L350.07,166.50 L350.19,165.30 L350.30,164.10 L350.41,162.90 L350.52,161.69 L350.63,160.49 L350.74,159.29 L350.84,158.08 L350.95,156.87 L351.05,155.67 L351.15,154.46 L351.24,153.25"/>
<path class="hpm" d="M45.11,81.12 L45.49,82.04 L45.94,83.15 L46.39,84.25 L46.84,85.35 L47.30,86.46 L47.75,87.56 L48.21,88.66 L48.67,89.76 L49.14,90.86 L49.61,91.96 L50.08,93.06 L50.55,94.16 L51.03,95.26 L51.51,96.36 L51.99,97.46 L52.47,98.55 L52.96,99.65 L53.45,100.74 L53.94,101.84 L54.44,102.93 L54.94,104.02 L55.44,105.11 L55.95,106.20 L56.45,107.29 L56.97,108.37 L57.48,109.46 L58.00,110.54 L58.52,111.62 L59.05,112.70 L59.58,113.78 L60.11,114.86 L60.65,115.93 L61.19,117.01 L61.73,118.08 L62.28,119.15 L62.83,120.22 L63.39,121.28 L63.95,122.35 L64.51,123.41 L65.08,124.47 L65.65,125.52 L66.22,126.58 L66.80,127.63 L67.39,128.68 L67.98,129.73 L68.57,130.77 L69.16,131.81 L69.76,132.85 L70.37,133.89 L70.98,134.92 L71.59,135.95 L72.21,136.98 L72.83,138.01 L73.46,139.03 L74.09,140.05 L74.73,141.06 L75.37,142.07 L76.02,143.08 L76.67,144.09 L77.33,145.09 L77.99,146.09 L78.66,147.09 L79.33,148.08 L80.00,149.07 L80.68,150.05 L81.37,151.03 L82.06,152.01 L82.76,152.99 L83.46,153.96 L84.17,154.92 L84.88,155.88 L85.60,156.84 L86.33,157.80 L87.06,158.74 L87.79,159.69 L88.53,160.63 L89.28,161.57 L90.03,162.50 L90.79,163.43 L91.55,164.35 L92.32,165.27 L93.10,166.18 L93.88,167.09 L94.66,168.00 L95.46,168.90 L96.26,169.79 L97.06,170.68 L97.87,171.57 L98.69,172.45 L99.52,173.32 L100.34,174.19 L101.18,175.05 L102.02,175.91 L102.87,176.76 L103.72,177.60 L104.58,178.44 L105.45,179.27 L106.32,180.10 L107.20,180.92 L108.09,181.73 L108.98,182.53 L109.88,183.33 L110.78,184.12 L111.69,184.90 L112.60,185.68 L113.53,186.44 L114.46,187.20 L115.39,187.96 L116.33,188.70 L117.28,189.43 L118.23,190.16 L119.19,190.88 L120.16,191.59 L121.13,192.29 L122.11,192.98 L123.09,193.67 L124.08,194.34 L125.08,195.01 L126.08,195.67 L127.08,196.33 L128.09,196.97 L129.11,197.61 L130.13,198.24 L131.15,198.87 L132.18,199.49 L133.21,200.10 L134.25,200.70 L135.29,201.30 L136.33,201.88 L137.38,202.47 L138.43,203.04 L139.48,203.61 L140.54,204.17 L141.61,204.73 L142.67,205.27 L143.74,205.81 L144.81,206.34 L145.89,206.87 L146.97,207.39 L148.05,207.90 L149.14,208.40 L150.23,208.90 L151.32,209.39 L152.42,209.87 L153.52,210.35 L154.62,210.81 L155.72,211.27 L156.83,211.73 L157.94,212.17 L159.05,212.61 L160.17,213.04 L161.29,213.47 L162.41,213.88 L163.53,214.29 L164.66,214.70 L165.79,215.09 L166.92,215.48 L168.05,215.86 L169.18,216.23 L170.32,216.60 L171.46,216.96 L172.60,217.32 L173.74,217.67 L174.88,218.02 L176.03,218.36 L177.18,218.70 L178.32,219.03 L179.47,219.36 L180.62,219.69 L181.77,220.01 L182.92,220.33 L184.08,220.65 L185.23,220.97 L186.38,221.28 L187.54,221.60 L188.69,221.91 L189.85,222.23 L191.00,222.54 L192.15,222.85 L193.31,223.17 L194.46,223.48 L195.62,223.80 L196.77,224.12 L197.92,224.43 L199.07,224.76 L200.22,225.08 L201.37,225.41 L202.52,225.74 L203.67,226.07 L204.82,226.41 L205.97,226.75 L207.11,227.09 L208.25,227.44 L209.39,227.80 L210.53,228.16 L211.67,228.53 L212.81,228.90 L213.94,229.28 L215.07,229.67 L216.20,230.06 L217.33,230.46 L218.45,230.87 L219.58,231.29 L220.69,231.72 L221.81,232.15 L222.93,232.60 L224.04,233.05 L225.14,233.51 L226.25,233.98 L227.35,234.46 L228.45,234.96 L229.54,235.46 L230.63,235.96 L231.72,236.48 L232.80,237.01 L233.88,237.55 L234.95,238.09 L236.03,238.64 L237.09,239.21 L238.15,239.78 L239.21,240.36 L240.26,240.95 L241.31,241.54 L242.36,242.15 L243.39,242.76 L244.43,243.38 L245.46,244.02 L246.48,244.65 L247.50,245.30 L248.51,245.96 L249.51,246.62 L250.51,247.29 L251.51,247.97 L252.50,248.66 L253.48,249.35 L254.46,250.06 L255.43,250.77 L256.39,251.49 L257.35,252.21 L258.30,252.95 L259.25,253.69 L260.18,254.44 L261.11,255.19 L262.04,255.96 L262.95,256.73 L263.86,257.51 L264.77,258.29 L265.66,259.08 L266.55,259.88 L267.43,260.69 L268.30,261.50 L269.16,262.33 L270.02,263.15 L270.87,263.99 L271.71,264.83 L272.54,265.68 L273.37,266.53 L274.18,267.39 L274.99,268.26 L275.80,269.13 L276.59,270.01 L277.38,270.90 L278.16,271.79 L278.94,272.69 L279.71,273.59 L280.47,274.50 L281.22,275.42 L281.97,276.34 L282.71,277.26 L283.44,278.20 L284.17,279.13 L284.89,280.08 L285.60,281.03 L286.31,281.98 L287.01,282.94 L287.70,283.91 L288.39,284.87 L289.07,285.85 L289.75,286.83 L290.42,287.81 L291.08,288.80 L291.74,289.80 L292.39,290.79 L293.03,291.80 L293.67,292.80 L294.30,293.82 L294.93,294.83 L295.55,295.85 L296.17,296.88 L296.78,297.90 L297.39,298.94 L297.98,299.97 L298.58,301.01 L299.17,302.06 L299.75,303.11 L300.33,304.16 L300.90,305.21 L301.47,306.27 L302.03,307.33 L302.59,308.40 L303.14,309.47 L303.69,310.54 L304.24,311.61 L304.77,312.69 L305.31,313.77 L305.84,314.86 L306.36,315.94 L306.88,317.03 L307.40,318.12 L307.91,319.22 L308.42,320.32 L308.92,321.42 L309.42,322.52 L309.91,323.62 L310.40,324.73 L310.89,325.84 L311.37,326.95 L311.85,328.06 L312.32,329.18 L312.79,330.29 L313.26,331.41 L313.72,332.53 L314.18,333.65 L314.64,334.78 L315.09,335.90 L315.54,337.03 L315.98,338.15 L316.42,339.28 L316.86,340.41 L317.30,341.54 L317.73,342.68 L318.16,343.81 L318.58,344.94 L319.01,346.08 L319.43,347.21 L319.84,348.35 L320.26,349.49 L320.67,350.62 L321.08,351.76 L321.48,352.90 L321.89,354.04 L322.29,355.18 L322.68,356.31 L323.08,357.45 L323.47,358.59 L323.86,359.73 L324.25,360.87 L324.64,362.01 L325.02,363.15 L325.41,364.28 L325.79,365.42 L326.17,366.56 L326.54,367.69 L326.92,368.83 L327.29,369.96 L327.66,371.10 L328.03,372.23 L328.40,373.36 L328.76,374.49 L329.13,375.62 L329.49,376.75 L329.85,377.88 L330.22,379.00 L330.57,380.13 L330.93,381.25 L331.29,382.37 L331.65,383.49 L332.00,384.61 L332.35,385.73 L332.71,386.84 L333.06,387.95 L333.41,389.06 L333.76,390.17 L334.11,391.28 L334.46,392.38 L334.81,393.48 L335.16,394.58 L335.51,395.68"/>
<path class="hpm" d="M44.53,309.38 L45.49,309.12 L46.66,308.81 L47.82,308.51 L48.99,308.21 L50.15,307.92 L51.32,307.64 L52.49,307.37 L53.66,307.11 L54.84,306.85 L56.01,306.60 L57.19,306.36 L58.36,306.13 L59.54,305.90 L60.72,305.68 L61.90,305.47 L63.08,305.27 L64.27,305.07 L65.45,304.88 L66.64,304.69 L67.82,304.52 L69.01,304.34 L70.20,304.18 L71.38,304.02 L72.57,303.87 L73.76,303.73 L74.96,303.59 L76.15,303.45 L77.34,303.33 L78.53,303.21 L79.73,303.09 L80.92,302.98 L82.12,302.88 L83.31,302.78 L84.51,302.69 L85.71,302.60 L86.90,302.52 L88.10,302.44 L89.30,302.37 L90.50,302.30 L91.70,302.24 L92.90,302.18 L94.09,302.13 L95.29,302.08 L96.49,302.04 L97.69,302.00 L98.89,301.96 L100.09,301.93 L101.29,301.91 L102.49,301.88 L103.69,301.87 L104.89,301.85 L106.09,301.84 L107.29,301.83 L108.49,301.83 L109.69,301.83 L110.89,301.84 L112.09,301.84 L113.29,301.85 L114.49,301.87 L115.69,301.89 L116.89,301.91 L118.09,301.93 L119.29,301.96 L120.48,301.99 L121.68,302.03 L122.88,302.07 L124.08,302.11 L125.28,302.16 L126.48,302.21 L127.68,302.26 L128.87,302.32 L130.07,302.38 L131.27,302.45 L132.47,302.52 L133.67,302.60 L134.87,302.69 L136.07,302.78 L137.27,302.88 L138.47,302.99 L139.67,303.11 L140.87,303.24 L142.06,303.38 L143.26,303.53 L144.46,303.69 L145.66,303.86 L146.85,304.04 L148.05,304.23 L149.24,304.43 L150.43,304.64 L151.62,304.86 L152.81,305.09 L153.99,305.33 L155.17,305.58 L156.35,305.85 L157.53,306.12 L158.70,306.40 L159.87,306.70 L161.04,307.01 L162.20,307.32 L163.36,307.65 L164.52,307.99 L165.67,308.34 L166.82,308.71 L167.96,309.08 L169.10,309.47 L170.23,309.87 L171.36,310.28 L172.48,310.70 L173.60,311.13 L174.71,311.58 L175.82,312.04 L176.92,312.51 L178.01,312.99 L179.10,313.49 L180.18,314.00 L181.25,314.52 L182.32,315.05 L183.39,315.59 L184.44,316.15 L185.49,316.71 L186.54,317.29 L187.57,317.88 L188.60,318.48 L189.63,319.09 L190.65,319.72 L191.66,320.35 L192.66,320.99 L193.66,321.65 L194.65,322.31 L195.63,322.99 L196.61,323.67 L197.58,324.37 L198.54,325.07 L199.50,325.79 L200.45,326.52 L201.39,327.25 L202.33,328.00 L203.25,328.75 L204.18,329.51 L205.09,330.29 L205.99,331.07 L206.89,331.86 L207.79,332.66 L208.67,333.47 L209.55,334.28 L210.41,335.11 L211.28,335.95 L212.13,336.79 L212.98,337.64 L213.82,338.50 L214.65,339.37 L215.47,340.24 L216.28,341.12 L217.09,342.01 L217.89,342.91 L218.68,343.82 L219.47,344.73 L220.24,345.65 L221.01,346.58 L221.77,347.51 L222.52,348.45 L223.26,349.40 L224.00,350.36 L224.72,351.32 L225.44,352.29 L226.15,353.26 L226.85,354.24 L227.54,355.23 L228.23,356.22 L228.90,357.22 L229.57,358.22 L230.23,359.23 L230.88,360.25 L231.52,361.27 L232.15,362.30 L232.78,363.33 L233.39,364.37 L233.99,365.41 L234.59,366.45 L235.18,367.51 L235.76,368.56 L236.33,369.62 L236.89,370.69 L237.44,371.76 L237.98,372.83 L238.51,373.91 L239.03,374.99 L239.55,376.08 L240.05,377.17 L240.55,378.26 L241.03,379.36 L241.51,380.46 L241.97,381.56 L242.43,382.67 L242.88,383.78 L243.31,384.89 L243.74,386.00 L244.16,387.12 L244.57,388.24 L244.97,389.37 L245.35,390.49 L245.73,391.62 L246.10,392.75 L246.46,393.89 L246.80,395.02"/>
<path class="blu" d="M45.13,81.07 L45.50,82.00 L47.04,85.81 L48.57,89.54 L50.11,93.17 L51.64,96.73 L53.18,100.20 L54.72,103.59 L56.25,106.89 L57.79,110.13 L59.32,113.28 L60.86,116.36 L62.39,119.36 L63.93,122.30 L65.47,125.16 L67.00,127.96 L68.54,130.68 L70.07,133.35 L71.61,135.94 L73.15,138.48 L74.68,140.95 L76.22,143.36 L77.75,145.71 L79.29,148.00 L80.82,150.24 L82.36,152.42 L83.90,154.55 L85.43,156.62 L86.97,158.64 L88.50,160.61 L90.04,162.53 L91.58,164.40 L93.11,166.23 L94.65,168.01 L96.18,169.74 L97.72,171.43 L99.25,173.07 L100.79,174.67 L102.33,176.23 L103.86,177.75 L105.40,179.23 L106.93,180.67 L108.47,182.07 L110.01,183.44 L111.54,184.77 L113.08,186.06 L114.61,187.32 L116.15,188.54 L117.68,189.73 L119.22,190.89 L120.76,192.02 L122.29,193.12 L123.83,194.19 L125.36,195.22 L126.90,196.23 L128.44,197.21 L129.97,198.16 L131.51,199.09 L133.04,199.99 L134.58,200.86 L136.11,201.71 L137.65,202.54 L139.19,203.34 L140.72,204.12 L142.26,204.87 L143.79,205.60 L145.33,206.32 L146.87,207.01 L148.40,207.67 L149.94,208.32 L151.47,208.95 L153.01,209.56 L154.54,210.15 L156.08,210.73 L157.62,211.28 L159.15,211.82 L160.69,212.34 L162.22,212.85 L163.76,213.33 L165.30,213.81 L166.83,214.26 L168.37,214.71 L169.90,215.13 L171.44,215.55 L172.97,215.94 L174.51,216.33 L176.05,216.70 L177.58,217.06 L179.12,217.41 L180.65,217.74 L182.19,218.06 L183.73,218.37 L185.26,218.67 L186.80,218.96 L188.33,219.24 L189.87,219.50 L191.40,219.76 L192.94,220.00 L194.48,220.24 L196.01,220.47 L197.55,220.68 L199.08,220.89 L200.62,221.09 L202.16,221.28 L203.69,221.46 L205.23,221.64 L206.76,221.80 L208.30,221.96 L209.83,222.11 L211.37,222.25 L212.91,222.39 L214.44,222.52 L215.98,222.64 L217.51,222.76 L219.05,222.86 L220.59,222.97 L222.12,223.06 L223.66,223.15 L225.19,223.24 L226.73,223.32 L228.26,223.39 L229.80,223.46 L231.34,223.52 L232.87,223.58 L234.41,223.63 L235.94,223.68 L237.48,223.72 L239.02,223.76 L240.55,223.79 L242.09,223.82 L243.62,223.85 L245.16,223.87 L246.69,223.89 L248.23,223.90 L249.77,223.91 L251.30,223.92 L252.84,223.92 L254.37,223.92 L255.91,223.91 L257.45,223.91 L258.98,223.89 L260.52,223.88 L262.05,223.86 L263.59,223.84 L265.13,223.82 L266.66,223.80 L268.20,223.77 L269.73,223.74 L271.27,223.70 L272.80,223.67 L274.34,223.63 L275.88,223.59 L277.41,223.55 L278.95,223.50 L280.48,223.46 L282.02,223.41 L283.56,223.36 L285.09,223.30 L286.63,223.25 L288.16,223.19 L289.70,223.13 L291.23,223.07 L292.77,223.01 L294.31,222.95 L295.84,222.89 L297.38,222.82 L298.91,222.75 L300.45,222.68 L301.99,222.61 L303.52,222.54 L305.06,222.47 L306.59,222.40 L308.13,222.32 L309.66,222.24 L311.20,222.17 L312.74,222.09 L314.27,222.01 L315.81,221.93 L317.34,221.85 L318.88,221.77 L320.42,221.68 L321.95,221.60 L323.49,221.52 L325.02,221.43 L326.56,221.35 L328.09,221.26 L329.63,221.17 L331.17,221.08 L332.70,220.99 L334.24,220.91 L335.77,220.82 L337.31,220.73 L338.85,220.63 L340.38,220.54 L341.92,220.45 L343.45,220.36 L344.99,220.27 L346.52,220.17 L348.06,220.08 L349.60,219.99 L351.13,219.89 L352.67,219.80 L354.20,219.70 L355.74,219.61 L357.28,219.51 L358.81,219.42 L360.35,219.32 L361.88,219.23 L363.42,219.13 L364.95,219.03 L366.49,218.94 L368.03,218.84 L369.56,218.74 L371.10,218.65 L372.63,218.55 L374.17,218.45 L375.71,218.36 L377.24,218.26 L378.78,218.16 L380.31,218.06 L381.85,217.97 L383.38,217.87 L384.92,217.77 L386.46,217.68 L387.99,217.58 L389.53,217.48 L391.06,217.38 L392.60,217.29 L394.14,217.19 L395.67,217.09 L397.21,216.99 L398.74,216.90 L400.28,216.80 L401.81,216.70 L403.35,216.61 L404.89,216.51 L406.42,216.41 L407.96,216.32 L409.49,216.22 L411.03,216.13 L412.57,216.03 L414.10,215.93 L415.64,215.84 L417.17,215.74 L418.71,215.65 L420.24,215.55 L421.78,215.46 L423.32,215.36 L424.85,215.27 L426.39,215.17 L427.92,215.08 L429.46,214.98 L431.00,214.89 L432.53,214.80 L434.07,214.70 L435.60,214.61 L437.14,214.52 L438.67,214.42 L440.21,214.33 L441.75,214.24 L443.28,214.15 L444.82,214.05 L446.35,213.96 L447.89,213.87 L449.43,213.78 L450.96,213.69 L452.50,213.60 L454.03,213.51 L455.57,213.42 L457.11,213.33 L458.64,213.24 L460.18,213.15 L461.71,213.06 L463.25,212.97 L464.78,212.88 L466.32,212.79 L467.86,212.70 L469.39,212.61 L470.93,212.53 L472.46,212.44 L474.00,212.35 L475.54,212.27 L477.07,212.18 L478.61,212.09 L480.14,212.01 L481.68,211.92 L483.21,211.83 L484.75,211.75 L486.29,211.66 L487.82,211.58 L489.36,211.49 L490.89,211.41 L492.43,211.33 L493.97,211.24 L495.50,211.16 L497.04,211.08 L498.57,210.99 L500.11,210.91 L501.64,210.83 L503.18,210.75 L504.72,210.67 L506.25,210.58 L507.79,210.50 L509.32,210.42 L510.86,210.34 L512.40,210.26 L513.93,210.18 L515.47,210.10 L517.00,210.02 L518.54,209.94 L520.07,209.86 L521.61,209.78 L523.15,209.71 L524.68,209.63 L526.22,209.55 L527.75,209.47 L529.29,209.39 L530.83,209.32 L532.36,209.24 L533.90,209.16 L535.43,209.09 L536.97,209.01 L538.50,208.94 L540.04,208.86 L541.58,208.79 L543.11,208.71 L544.65,208.64 L546.18,208.56 L547.72,208.49 L549.26,208.41 L550.79,208.34 L552.33,208.27 L553.86,208.20 L555.40,208.12 L556.93,208.05 L558.47,207.98 L560.01,207.91 L561.54,207.83 L563.08,207.76 L564.61,207.69 L566.15,207.62 L567.69,207.55 L569.22,207.48 L570.76,207.41 L572.29,207.34 L573.83,207.27 L575.36,207.20 L576.90,207.13 L578.44,207.06 L579.97,206.99 L581.51,206.93 L583.04,206.86 L584.58,206.79 L586.12,206.72 L587.65,206.66 L589.19,206.59 L590.72,206.52 L592.26,206.46 L593.79,206.39 L595.33,206.32 L596.87,206.26 L598.40,206.19 L599.94,206.13 L601.47,206.06 L603.01,206.00 L604.55,205.93 L606.08,205.87 L607.62,205.80 L609.15,205.74 L610.69,205.68 L612.22,205.61 L613.76,205.55 L615.30,205.49 L616.83,205.42 L618.37,205.36 L619.90,205.30 L621.44,205.24 L622.98,205.17 L624.51,205.11 L626.05,205.05 L627.58,204.99 L629.12,204.93 L630.65,204.87 L632.19,204.81 L633.73,204.75 L635.26,204.69 L636.80,204.63 L638.33,204.57 L639.87,204.51 L641.41,204.45 L642.94,204.39 L644.48,204.33 L646.01,204.27 L647.55,204.22 L649.08,204.16 L650.62,204.10 L652.16,204.04 L653.69,203.99 L655.23,203.93 L656.76,203.87 L658.30,203.81"/>
<path class="blu" d="M44.53,309.35 L45.50,309.10 L47.04,308.70 L48.57,308.31 L50.11,307.93 L51.64,307.57 L53.18,307.22 L54.72,306.89 L56.25,306.57 L57.79,306.25 L59.32,305.96 L60.86,305.67 L62.39,305.40 L63.93,305.13 L65.47,304.88 L67.00,304.65 L68.54,304.42 L70.07,304.20 L71.61,304.00 L73.15,303.80 L74.68,303.62 L76.22,303.44 L77.75,303.28 L79.29,303.13 L80.82,302.98 L82.36,302.85 L83.90,302.72 L85.43,302.61 L86.97,302.50 L88.50,302.40 L90.04,302.31 L91.58,302.23 L93.11,302.16 L94.65,302.09 L96.18,302.03 L97.72,301.98 L99.25,301.94 L100.79,301.91 L102.33,301.88 L103.86,301.86 L105.40,301.84 L106.93,301.83 L108.47,301.83 L110.01,301.84 L111.54,301.85 L113.08,301.87 L114.61,301.89 L116.15,301.92 L117.68,301.95 L119.22,301.99 L120.76,302.03 L122.29,302.08 L123.83,302.13 L125.36,302.19 L126.90,302.26 L128.44,302.32 L129.97,302.39 L131.51,302.47 L133.04,302.55 L134.58,302.63 L136.11,302.72 L137.65,302.81 L139.19,302.91 L140.72,303.00 L142.26,303.10 L143.79,303.21 L145.33,303.32 L146.87,303.43 L148.40,303.54 L149.94,303.65 L151.47,303.77 L153.01,303.89 L154.54,304.02 L156.08,304.14 L157.62,304.27 L159.15,304.40 L160.69,304.53 L162.22,304.67 L163.76,304.80 L165.30,304.94 L166.83,305.08 L168.37,305.22 L169.90,305.36 L171.44,305.51 L172.97,305.66 L174.51,305.80 L176.05,305.95 L177.58,306.10 L179.12,306.25 L180.65,306.41 L182.19,306.56 L183.73,306.71 L185.26,306.87 L186.80,307.03 L188.33,307.18 L189.87,307.34 L191.40,307.50 L192.94,307.66 L194.48,307.82 L196.01,307.98 L197.55,308.14 L199.08,308.31 L200.62,308.47 L202.16,308.63 L203.69,308.79 L205.23,308.96 L206.76,309.12 L208.30,309.29 L209.83,309.45 L211.37,309.62 L212.91,309.78 L214.44,309.95 L215.98,310.11 L217.51,310.28 L219.05,310.44 L220.59,310.61 L222.12,310.78 L223.66,310.94 L225.19,311.11 L226.73,311.27 L228.26,311.44 L229.80,311.60 L231.34,311.77 L232.87,311.94 L234.41,312.10 L235.94,312.27 L237.48,312.43 L239.02,312.60 L240.55,312.76 L242.09,312.92 L243.62,313.09 L245.16,313.25 L246.69,313.41 L248.23,313.58 L249.77,313.74 L251.30,313.90 L252.84,314.06 L254.37,314.23 L255.91,314.39 L257.45,314.55 L258.98,314.71 L260.52,314.87 L262.05,315.03 L263.59,315.19 L265.13,315.35 L266.66,315.50 L268.20,315.66 L269.73,315.82 L271.27,315.98 L272.80,316.13 L274.34,316.29 L275.88,316.44 L277.41,316.60 L278.95,316.75 L280.48,316.91 L282.02,317.06 L283.56,317.21 L285.09,317.36 L286.63,317.52 L288.16,317.67 L289.70,317.82 L291.23,317.97 L292.77,318.12 L294.31,318.27 L295.84,318.41 L297.38,318.56 L298.91,318.71 L300.45,318.86 L301.99,319.00 L303.52,319.15 L305.06,319.29 L306.59,319.44 L308.13,319.58 L309.66,319.72 L311.20,319.87 L312.74,320.01 L314.27,320.15 L315.81,320.29 L317.34,320.43 L318.88,320.57 L320.42,320.71 L321.95,320.85 L323.49,320.99 L325.02,321.12 L326.56,321.26 L328.09,321.40 L329.63,321.53 L331.17,321.67 L332.70,321.80 L334.24,321.93 L335.77,322.07 L337.31,322.20 L338.85,322.33 L340.38,322.46 L341.92,322.59 L343.45,322.73 L344.99,322.85 L346.52,322.98 L348.06,323.11 L349.60,323.24 L351.13,323.37 L352.67,323.49 L354.20,323.62 L355.74,323.75 L357.28,323.87 L358.81,324.00 L360.35,324.12 L361.88,324.24 L363.42,324.37 L364.95,324.49 L366.49,324.61 L368.03,324.73 L369.56,324.85 L371.10,324.97 L372.63,325.09 L374.17,325.21 L375.71,325.33 L377.24,325.45 L378.78,325.56 L380.31,325.68 L381.85,325.80 L383.38,325.91 L384.92,326.03 L386.46,326.14 L387.99,326.26 L389.53,326.37 L391.06,326.48 L392.60,326.59 L394.14,326.71 L395.67,326.82 L397.21,326.93 L398.74,327.04 L400.28,327.15 L401.81,327.26 L403.35,327.37 L404.89,327.48 L406.42,327.58 L407.96,327.69 L409.49,327.80 L411.03,327.90 L412.57,328.01 L414.10,328.12 L415.64,328.22 L417.17,328.32 L418.71,328.43 L420.24,328.53 L421.78,328.63 L423.32,328.74 L424.85,328.84 L426.39,328.94 L427.92,329.04 L429.46,329.14 L431.00,329.24 L432.53,329.34 L434.07,329.44 L435.60,329.54 L437.14,329.64 L438.67,329.74 L440.21,329.83 L441.75,329.93 L443.28,330.03 L444.82,330.12 L446.35,330.22 L447.89,330.31 L449.43,330.41 L450.96,330.50 L452.50,330.60 L454.03,330.69 L455.57,330.78 L457.11,330.88 L458.64,330.97 L460.18,331.06 L461.71,331.15 L463.25,331.24 L464.78,331.33 L466.32,331.42 L467.86,331.51 L469.39,331.60 L470.93,331.69 L472.46,331.78 L474.00,331.87 L475.54,331.95 L477.07,332.04 L478.61,332.13 L480.14,332.21 L481.68,332.30 L483.21,332.39 L484.75,332.47 L486.29,332.56 L487.82,332.64 L489.36,332.73 L490.89,332.81 L492.43,332.89 L493.97,332.98 L495.50,333.06 L497.04,333.14 L498.57,333.22 L500.11,333.31 L501.64,333.39 L503.18,333.47 L504.72,333.55 L506.25,333.63 L507.79,333.71 L509.32,333.79 L510.86,333.87 L512.40,333.95 L513.93,334.02 L515.47,334.10 L517.00,334.18 L518.54,334.26 L520.07,334.33 L521.61,334.41 L523.15,334.49 L524.68,334.56 L526.22,334.64 L527.75,334.72 L529.29,334.79 L530.83,334.87 L532.36,334.94 L533.90,335.01 L535.43,335.09 L536.97,335.16 L538.50,335.24 L540.04,335.31 L541.58,335.38 L543.11,335.45 L544.65,335.53 L546.18,335.60 L547.72,335.67 L549.26,335.74 L550.79,335.81 L552.33,335.88 L553.86,335.95 L555.40,336.02 L556.93,336.09 L558.47,336.16 L560.01,336.23 L561.54,336.30 L563.08,336.37 L564.61,336.44 L566.15,336.50 L567.69,336.57 L569.22,336.64 L570.76,336.71 L572.29,336.77 L573.83,336.84 L575.36,336.90 L576.90,336.97 L578.44,337.04 L579.97,337.10 L581.51,337.17 L583.04,337.23 L584.58,337.30 L586.12,337.36 L587.65,337.43 L589.19,337.49 L590.72,337.55 L592.26,337.62 L593.79,337.68 L595.33,337.74 L596.87,337.81 L598.40,337.87 L599.94,337.93 L601.47,337.99 L603.01,338.05 L604.55,338.11 L606.08,338.18 L607.62,338.24 L609.15,338.30 L610.69,338.36 L612.22,338.42 L613.76,338.48 L615.30,338.54 L616.83,338.60 L618.37,338.66 L619.90,338.72 L621.44,338.77 L622.98,338.83 L624.51,338.89 L626.05,338.95 L627.58,339.01 L629.12,339.07 L630.65,339.12 L632.19,339.18 L633.73,339.24 L635.26,339.29 L636.80,339.35 L638.33,339.41 L639.87,339.46 L641.41,339.52 L642.94,339.57 L644.48,339.63 L646.01,339.68 L647.55,339.74 L649.08,339.79 L650.62,339.85 L652.16,339.90 L653.69,339.96 L655.23,340.01 L656.76,340.07 L658.30,340.12"/>
</g>
<g class="tl"><text x="45.94" y="399.15" text-anchor="middle">0</text><text x="168.30" y="399.15" text-anchor="middle">2</text><text x="290.66" y="399.15" text-anchor="middle">4</text><text x="413.02" y="399.15" text-anchor="middle">6</text><text x="535.38" y="399.15" text-anchor="middle">8</text><text x="658.24" y="399.15" text-anchor="middle">10</text><text x="42.4" y="389.10" text-anchor="end">0.0</text><text x="42.4" y="313.38" text-anchor="end">0.2</text><text x="42.4" y="237.66" text-anchor="end">0.4</text><text x="42.4" y="161.94" text-anchor="end">0.6</text><text x="42.4" y="86.22" text-anchor="end">0.8</text><text x="42.4" y="10.50" text-anchor="end">1.0</text></g>
<text x="352" y="421.7" text-anchor="middle" font-size="16" fill="#666">t</text>
<text transform="translate(14.5,195.75) rotate(-90) scale(1,0.97)" text-anchor="middle" font-size="16.08" font-weight="bold" fill="#666">Population fraction</text>
<text x="71" y="87.8" font-size="16.2" fill="#000">s(t)</text>
<text x="70.7" y="276.3" font-size="16.4" fill="#000">i(t)</text>
<g class="c"><path class="num" d="M499,53 H545.3"/><path class="ladm" d="M499,78 H543.5"/><path class="lvim" d="M499,103 H545.3"/><path class="lhpm" d="M499,128 H545.3"/><path class="lblu" d="M499,153 H545.3"/></g>
<g class="lg"><text x="552.2" y="57.7">Numerical</text><text x="552.2" y="82.7">ADM n = 5</text><text x="552.2" y="107.7">VIM n = 5</text><text x="552.2" y="132.7">HPM n = 5</text><text x="552.2" y="157.7">BLUES n = 3</text></g>
</svg>
</body></html>
